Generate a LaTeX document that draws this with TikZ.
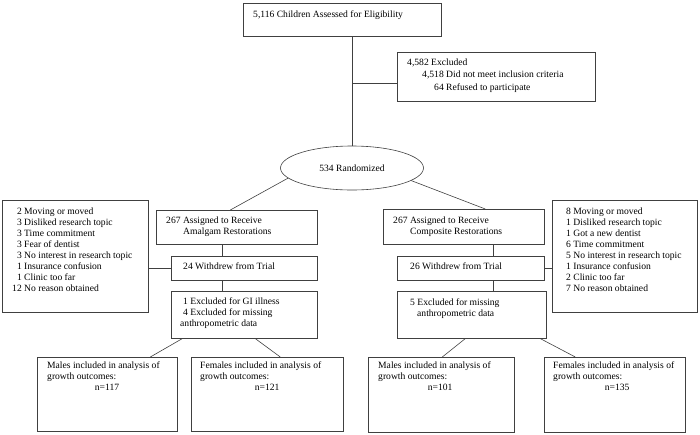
\documentclass[tikz,border=0pt]{standalone}
\usepackage{fontspec}
\setmainfont{Liberation Serif}
\usetikzlibrary{shapes.geometric,calc}

\begin{document}
\begin{tikzpicture}[x=1pt, y=-1pt, font=\fontsize{9.6}{11}\selectfont,
  box/.style={draw=black!75, line width=0.6pt, anchor=north west, inner sep=0pt},
  txt/.style={anchor=north west, align=left, inner sep=0pt},
  link/.style={draw=black!75, line width=0.6pt}]
\useasboundingbox (0,0) rectangle (700,434);

% enrolment
\node[box, minimum width=198pt, minimum height=33pt] (screen) at (243,3) {};
\node[txt] (screen-t) at (253,10.4) {5,116 Children Assessed for Eligibility};
\node[box, minimum width=198pt, minimum height=49pt] (excl) at (397,52) {};
\node[txt, font=\fontsize{9.6}{12.5}\selectfont] (excl-t) at (407,58.4) {4,582 Excluded\\\hspace*{15pt}4,518 Did not meet inclusion criteria\\\hspace*{27pt}64 Refused to participate};
\node[draw=black!75, line width=0.6pt, ellipse, minimum width=143pt, minimum height=44pt, inner sep=0pt] (rand) at (352,168) {534 Randomized};

% amalgam arm
\node[box, minimum width=161pt, minimum height=34pt] (assignL) at (156,210) {};
\node[txt] (assignL-t) at (166,216.4) {267 Assigned to Receive\\\hspace*{17pt}Amalgam Restorations};
\node[box, minimum width=146pt, minimum height=24pt] (wdL) at (171,256) {};
\node[txt] (wdL-t) at (183,262.4) {24 Withdrew from Trial};
\node[box, minimum width=146pt, minimum height=47pt] (exL) at (171,291) {};
\node[txt] (exL-t) at (180,297.4) {\hspace*{3pt}1 Excluded for GI illness\\\hspace*{3pt}4 Excluded for missing\\anthropometric data};
\node[box, minimum width=146pt, minimum height=112pt] (reasonL) at (2,200) {};
\node[txt, font=\fontsize{9.6}{11.1}\selectfont] (reasonL-t) at (12,207.4) {\phantom{1}2 Moving or moved\\\phantom{1}3 Disliked research topic\\\phantom{1}3 Time commitment\\\phantom{1}3 Fear of dentist\\\phantom{1}3 No interest in research topic\\\phantom{1}1 Insurance confusion\\\phantom{1}1 Clinic too far\\12 No reason obtained};

% composite arm
\node[box, minimum width=161pt, minimum height=35pt] (assignR) at (383,209) {};
\node[txt] (assignR-t) at (393,216.4) {267 Assigned to Receive\\\hspace*{17pt}Composite Restorations};
\node[box, minimum width=147pt, minimum height=24pt] (wdR) at (397,256) {};
\node[txt] (wdR-t) at (410,262.4) {26 Withdrew from Trial};
\node[box, minimum width=149pt, minimum height=47pt] (exR) at (397,291) {};
\node[txt] (exR-t) at (410,298.4) {5 Excluded for missing\\\hspace*{7pt}anthropometric data};
\node[box, minimum width=145pt, minimum height=112pt] (reasonR) at (552,200) {};
\node[txt, font=\fontsize{9.6}{11.1}\selectfont] (reasonR-t) at (566,207.4) {8 Moving or moved\\1 Disliked research topic\\1 Got a new dentist\\6 Time commitment\\5 No interest in research topic\\1 Insurance confusion\\2 Clinic too far\\7 No reason obtained};

% analysis
\node[box, minimum width=140pt, minimum height=74pt] (malesL) at (37,357) {};
\node[txt] (malesL-t) at (47,361.4) {Males included in analysis of\\growth outcomes:\\\hspace*{47.7pt}n=117};
\node[box, minimum width=152pt, minimum height=74pt] (femL) at (191,357) {};
\node[txt] (femL-t) at (200,361.4) {Females included in analysis of\\growth outcomes:\\\hspace*{54.7pt}n=121};
\node[box, minimum width=146pt, minimum height=75pt] (malesR) at (368,357) {};
\node[txt] (malesR-t) at (378,361.4) {Males included in analysis of\\growth outcomes:\\\hspace*{49.7pt}n=101};
\node[box, minimum width=141pt, minimum height=75pt] (femR) at (544,357) {};
\node[txt] (femR-t) at (553,361.4) {Females included in analysis of\\growth outcomes:\\\hspace*{51.7pt}n=135};

% connectors
\coordinate (colL) at (222,0);
\coordinate (colR) at (493,0);
\draw[link] (rand.north) -- (rand.north |- screen.south);
\draw[link] ($(rand.north |- excl.west)+(0,6.5)$) -- ($(excl.west)+(0,6.5)$);
\draw[link] (rand.189) -- ([xshift=-6.5pt]assignL.north);
\draw[link] (rand.348) -- ([xshift=21.5pt]assignR.north);
\draw[link] (assignL.south -| colL) -- (wdL.north -| colL);
\draw[link] (wdL.south -| colL) -- (exL.north -| colL);
\draw[link] (assignR.south -| colR) -- (wdR.north -| colR);
\draw[link] (wdR.south -| colR) -- (exR.north -| colR);
\draw[link] (wdL.west) -- (wdL.west -| reasonL.east);
\draw[link] (wdR.east) -- (wdR.east -| reasonR.west);
\draw[link] ([xshift=-62pt]exL.south) -- ([xshift=43pt]malesL.north);
\draw[link] ([xshift=11pt]exL.south) -- ([xshift=13pt]femL.north);
\draw[link] ([xshift=-6.5pt]exR.south) -- ([xshift=1pt]malesR.north);
\draw[link] ([xshift=68.5pt]exR.south) -- ([xshift=-39.5pt]femR.north);
\end{tikzpicture}
\end{document}
